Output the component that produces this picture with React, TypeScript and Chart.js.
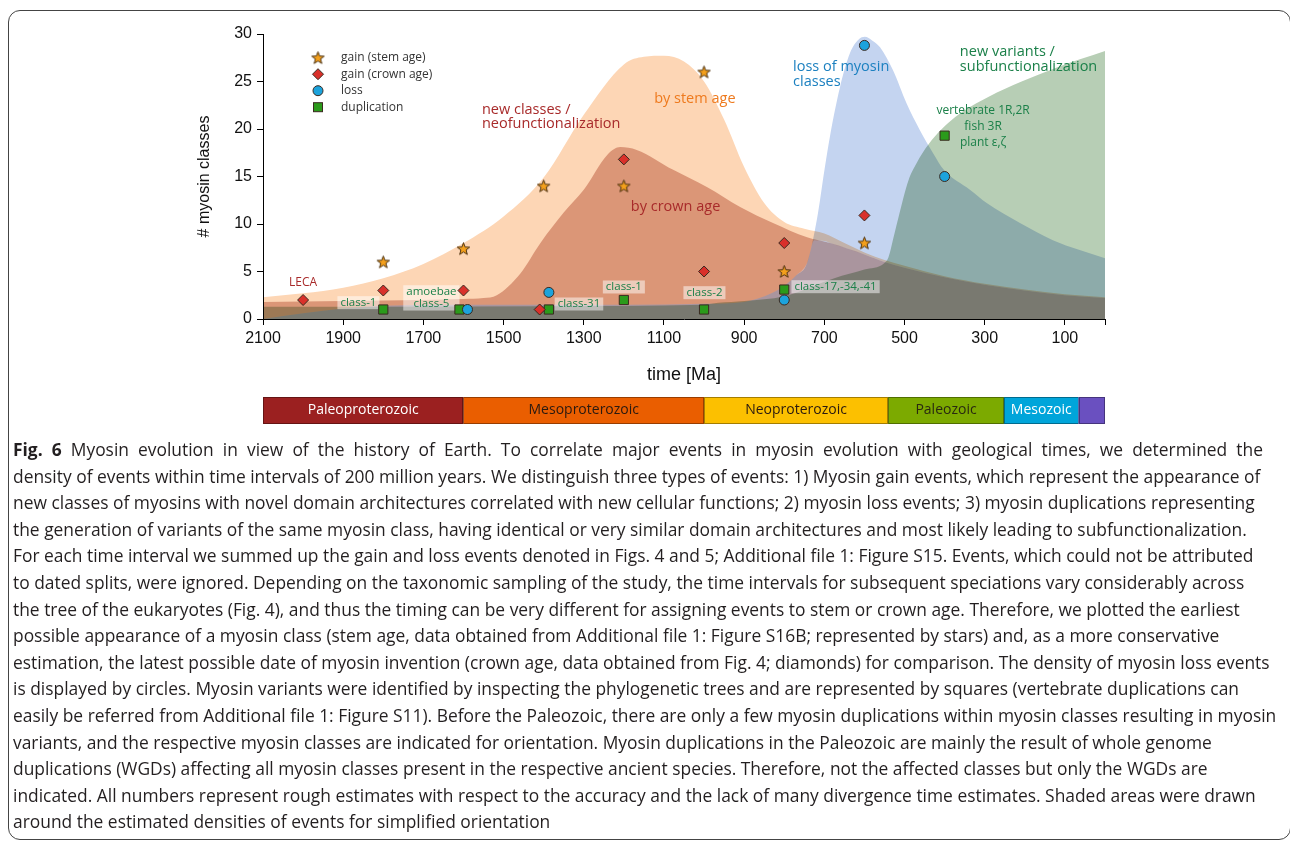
import React, { useEffect, useRef } from "react";
import { Chart, registerables } from "chart.js";

Chart.register(...registerables);

// ---------------- data ----------------
const xTickValues = [2100, 1900, 1700, 1500, 1300, 1100, 900, 700, 500, 300, 100, 0];

// gain events (stem age) – stars
const stemMa = [1800, 1600, 1400, 1200, 1000, 800, 600];
const stemGain = [6, 7.4, 14, 14, 26, 5, 8];
// gain events (crown age) – diamonds
const crownMa = [2000, 1800, 1600, 1410, 1200, 1000, 800, 600];
const crownGain = [2, 3, 3, 1, 16.8, 5, 8, 10.9];
// loss events – circles
const lossMa = [1590, 1387, 800, 600, 400];
const lossCount = [1, 2.8, 2, 28.8, 15];
// duplications – squares
const dupMa = [1800, 1610, 1387, 1200, 1000, 800, 400];
const dupCount = [1, 1, 1, 2, 1, 3.1, 19.3];

// shaded density envelopes
const stemAreaMa = [2100, 2000, 1900, 1800, 1700, 1600, 1500, 1400, 1300, 1200, 1150, 1100, 1050, 1000, 950, 900, 850, 800, 750, 700, 650, 600, 550, 500, 400, 300, 200, 100, 0];
const stemAreaVal = [2.3, 2.7, 3.3, 4.3, 5.8, 8.0, 10.8, 14.9, 21.5, 26.8, 27.6, 27.7, 27.1, 25.0, 21.0, 16.0, 12.2, 10.2, 9.5, 9.0, 8.0, 7.0, 6.2, 5.6, 4.5, 3.7, 3.1, 2.6, 2.3];
// lower edge of the stem-age shading (it lies on the loss band, then on the crown tail)
const stemFloorMa = [2100, 2000, 1900, 1800, 1600, 1400, 1200, 1000, 900, 832, 800, 770, 743, 725, 700, 686, 600, 550, 500, 400, 300, 200, 100, 0];
const stemFloorVal = [0, 0.6, 1.1, 1.4, 1.5, 1.5, 1.5, 1.6, 1.8, 2.7, 3.5, 4.6, 5.9, 8.3, 8.2, 8.0, 6.8, 6.0, 5.4, 4.4, 3.6, 3.0, 2.5, 2.2];

const crownAreaMa = [2100, 1900, 1700, 1600, 1550, 1517, 1458, 1408, 1350, 1300, 1241, 1209, 1168, 1077, 993, 910, 828, 743, 686, 600, 550, 500, 400, 300, 200, 100, 0];
const crownAreaVal = [1.8, 1.9, 2.0, 2.1, 2.2, 2.5, 4.8, 8.0, 11.2, 13.6, 17.3, 18.1, 17.8, 15.7, 13.9, 11.8, 10.1, 8.6, 8.0, 6.8, 6.0, 5.4, 4.4, 3.6, 3.0, 2.5, 2.2];

const lossAreaMa = [2100, 2000, 1900, 1800, 1600, 1400, 1200, 1000, 900, 832, 800, 770, 743, 718, 700, 686, 661, 636, 615, 599, 580, 561, 529, 495, 462, 428, 402, 337, 295, 212, 130, 0];
const lossAreaVal = [0, 0.6, 1.1, 1.4, 1.5, 1.5, 1.5, 1.6, 1.8, 2.7, 3.5, 4.6, 5.9, 10.6, 15.6, 19.2, 24.4, 28.0, 29.4, 29.7, 29.3, 28.6, 26.2, 22.7, 19.9, 17.4, 15.7, 13.6, 12.2, 10.1, 8.3, 6.4];

const dupAreaMa = [2100, 1800, 1400, 1000, 965, 900, 800, 675, 600, 550, 540, 525, 515, 490, 470, 440, 375, 290, 208, 125, 0];
const dupAreaVal = [1.3, 1.3, 1.35, 1.5, 1.7, 1.9, 2.4, 4.3, 5.2, 5.9, 6.5, 9.0, 10.7, 14.6, 16.4, 18.4, 21.2, 23.4, 25.0, 26.4, 28.2];

// geological time scale
const eraNames = ["Paleoproterozoic", "Mesoproterozoic", "Neoproterozoic", "Paleozoic", "Mesozoic", ""];
const eraStartMa = [2100, 1600, 1000, 541, 252, 66];
const eraEndMa = [1600, 1000, 541, 252, 66, 0];

const captionLines = [
  " Myosin evolution in view of the history of Earth. To correlate major events in myosin evolution with geological times, we determined the",
  "density of events within time intervals of 200 million years. We distinguish three types of events: 1) Myosin gain events, which represent the appearance of",
  "new classes of myosins with novel domain architectures correlated with new cellular functions; 2) myosin loss events; 3) myosin duplications representing",
  "the generation of variants of the same myosin class, having identical or very similar domain architectures and most likely leading to subfunctionalization.",
  "For each time interval we summed up the gain and loss events denoted in Figs. 4 and 5; Additional file 1: Figure S15. Events, which could not be attributed",
  "to dated splits, were ignored. Depending on the taxonomic sampling of the study, the time intervals for subsequent speciations vary considerably across",
  "the tree of the eukaryotes (Fig. 4), and thus the timing can be very different for assigning events to stem or crown age. Therefore, we plotted the earliest",
  "possible appearance of a myosin class (stem age, data obtained from Additional file 1: Figure S16B; represented by stars) and, as a more conservative",
  "estimation, the latest possible date of myosin invention (crown age, data obtained from Fig. 4; diamonds) for comparison. The density of myosin loss events",
  "is displayed by circles. Myosin variants were identified by inspecting the phylogenetic trees and are represented by squares (vertebrate duplications can",
  "easily be referred from Additional file 1: Figure S11). Before the Paleozoic, there are only a few myosin duplications within myosin classes resulting in myosin",
  "variants, and the respective myosin classes are indicated for orientation. Myosin duplications in the Paleozoic are mainly the result of whole genome",
  "duplications (WGDs) affecting all myosin classes present in the respective ancient species. Therefore, not the affected classes but only the WGDs are",
  "indicated. All numbers represent rough estimates with respect to the accuracy and the lack of many divergence time estimates. Shaded areas were drawn",
  "around the estimated densities of events for simplified orientation",
];

// ---------------- styles ----------------
const C = {
  peach: "#FDD6B5",
  crown: "#DDB3A8",
  blue: "#C4D4F0",
  green: "#B7CEB5",
  star: "#F4A01C",
  diamond: "#D9302A",
  circle: "#1CA3DC",
  square: "#2B9A1B",
  red: "#A82A2A",
  orange: "#EE7A1E",
  blueTxt: "#1C80C0",
  greenTxt: "#1B8049",
  era: ["#9B2020", "#EA5E00", "#FCC000", "#7CAA00", "#00A5DA", "#6A50C0"],
  eraTxt: ["#ffffff", "#2a1a10", "#2a1a10", "#2a2a10", "#ffffff", "#ffffff"],
};
const SANS = '"Open Sans", sans-serif';
const AXIS = '"Liberation Sans", Arial, sans-serif';

type Note = { lines: string[]; ma: number; v: number; color: string; size: number; align: CanvasTextAlign; gap?: number; box?: boolean };
const notes: Note[] = [
  { lines: ["LECA"], ma: 2000, v: 3.8, color: C.red, size: 12, align: "center" },
  { lines: ["new classes /", "neofunctionalization"], ma: 1554, v: 22.05, color: C.red, size: 14.5, align: "left", gap: 14.7 },
  { lines: ["by stem age"], ma: 1023, v: 23.2, color: C.orange, size: 14.5, align: "center" },
  { lines: ["by crown age"], ma: 1071, v: 11.8, color: C.red, size: 14.5, align: "center" },
  { lines: ["loss of myosin", "classes"], ma: 778, v: 26.5, color: C.blueTxt, size: 14.5, align: "left", gap: 14.5 },
  { lines: ["new variants /", "subfunctionalization"], ma: 362, v: 28.1, color: C.greenTxt, size: 14.5, align: "left", gap: 14.5 },
  { lines: ["vertebrate 1R,2R", "fish 3R", "plant \u03b5,\u03b6"], ma: 304, v: 21.9, color: C.greenTxt, size: 12, align: "center", gap: 16 },
  { lines: ["class-1"], ma: 1862, v: 1.72, color: C.greenTxt, size: 11.5, align: "center", box: true },
  { lines: ["amoebae", "class-5"], ma: 1680, v: 2.87, color: C.greenTxt, size: 11.5, align: "center", gap: 12.3, box: true },
  { lines: ["class-31"], ma: 1312, v: 1.58, color: C.greenTxt, size: 11.5, align: "center", box: true },
  { lines: ["class-1"], ma: 1200, v: 3.37, color: C.greenTxt, size: 11.5, align: "center", box: true },
  { lines: ["class-2"], ma: 999, v: 2.77, color: C.greenTxt, size: 11.5, align: "center", box: true },
  { lines: ["class-17,-34,-41"], ma: 672, v: 3.4, color: C.greenTxt, size: 11.5, align: "center", box: true },
];

function makeStar(size: number): HTMLCanvasElement {
  const c = document.createElement("canvas");
  c.width = size;
  c.height = size;
  const ctx = c.getContext("2d")!;
  const cx = size / 2, cy = size / 2 + 0.5, R = size / 2 - 1, r = R * 0.42;
  ctx.beginPath();
  for (let i = 0; i < 10; i++) {
    const a = -Math.PI / 2 + (i * Math.PI) / 5;
    const rad = i % 2 === 0 ? R : r;
    ctx.lineTo(cx + rad * Math.cos(a), cy + rad * Math.sin(a));
  }
  ctx.closePath();
  ctx.fillStyle = C.star;
  ctx.fill();
  ctx.lineWidth = 1;
  ctx.strokeStyle = "#4a3010";
  ctx.stroke();
  return c;
}

export default function App() {
  const ref = useRef<HTMLCanvasElement>(null);

  useEffect(() => {
    const canvas = ref.current!;
    const star = makeStar(15);
    const toXY = (xs: number[], ys: number[]) => xs.map((x, i) => ({ x, y: ys[i] }));
    const area = (label: string, xs: number[], ys: number[], color: string, fill: any) => ({
      type: "line",
      label,
      isArea: true,
      data: toXY(xs, ys),
      fill,
      backgroundColor: color,
      borderColor: "rgba(0,0,0,0)",
      borderWidth: 0,
      pointRadius: 0,
      pointHoverRadius: 0,
      cubicInterpolationMode: "monotone",
      tension: 0.4,
    });
    const pts = (label: string, xs: number[], ys: number[], style: any, color: string, radius: number) => ({
      type: "scatter",
      label,
      data: toXY(xs, ys),
      pointStyle: style,
      pointRadius: radius,
      pointHoverRadius: radius,
      backgroundColor: color,
      borderColor: "#3a2a20",
      borderWidth: 1,
    });

    const floorIndex = 8;
    const datasets: any[] = [
      pts("gain (stem age)", stemMa, stemGain, star, C.star, 7.5),
      pts("gain (crown age)", crownMa, crownGain, "rectRot", C.diamond, 5.5),
      pts("loss", lossMa, lossCount, "circle", C.circle, 5),
      pts("duplication", dupMa, dupCount, "rect", C.square, 6.5),
      area("loss density", lossAreaMa, lossAreaVal, C.blue, "origin"),
      area("duplication density", dupAreaMa, dupAreaVal, C.green, "origin"),
      area("crown density", crownAreaMa, crownAreaVal, C.crown, "origin"),
      area("stem density", stemAreaMa, stemAreaVal, C.peach, floorIndex),
      area("stem floor", stemFloorMa, stemFloorVal, "rgba(0,0,0,0)", false),
    ];
    const lastAreaIndex = 4;

    const drawNotes = (chart: any) => {
      const { ctx, scales } = chart;
      const xs = scales.x, ys = scales.y;
      ctx.save();
      ctx.globalCompositeOperation = "source-over";
      ctx.textBaseline = "middle";
      for (const n of notes) {
        const px = xs.getPixelForValue(n.ma);
        const py = ys.getPixelForValue(n.v);
        const gap = n.gap ?? 14;
        ctx.font = `${n.size}px ${SANS}`;
        if (n.box) {
          const w = Math.max(...n.lines.map((l) => ctx.measureText(l).width));
          const h = gap * (n.lines.length - 1) + 13;
          ctx.fillStyle = "rgba(255,255,255,0.5)";
          ctx.fillRect(px - w / 2 - 3, py - 6.5, w + 6, h);
        }
        ctx.fillStyle = n.color;
        ctx.textAlign = n.align;
        n.lines.forEach((l, i) => ctx.fillText(l, px, py + i * gap));
      }
      ctx.restore();
    };

    const drawMarker = (ctx: CanvasRenderingContext2D, kind: string, x: number, y: number) => {
      ctx.save();
      ctx.lineWidth = 1;
      ctx.strokeStyle = "#3a2a20";
      if (kind === "star") {
        ctx.drawImage(star, x - star.width / 2, y - star.height / 2);
      } else if (kind === "diamond") {
        ctx.beginPath();
        ctx.moveTo(x, y - 5.5); ctx.lineTo(x + 5.5, y); ctx.lineTo(x, y + 5.5); ctx.lineTo(x - 5.5, y);
        ctx.closePath();
        ctx.fillStyle = C.diamond; ctx.fill(); ctx.stroke();
      } else if (kind === "circle") {
        ctx.beginPath(); ctx.arc(x, y, 5, 0, Math.PI * 2);
        ctx.fillStyle = C.circle; ctx.fill(); ctx.stroke();
      } else {
        ctx.fillStyle = C.square;
        ctx.fillRect(x - 4.5, y - 4.5, 9, 9); ctx.strokeRect(x - 4.5, y - 4.5, 9, 9);
      }
      ctx.restore();
    };

    const plugin = {
      id: "myosinDecor",
      beforeDatasetsDraw(chart: any) {
        chart.ctx.globalCompositeOperation = "multiply";
      },
      beforeDatasetDraw(chart: any, args: any) {
        const ds = chart.data.datasets[args.index];
        chart.ctx.globalCompositeOperation = ds.isArea ? "multiply" : "source-over";
      },
      afterDatasetDraw(chart: any, args: any) {
        if (args.index === lastAreaIndex) drawNotes(chart);
      },
      afterDatasetsDraw(chart: any) {
        chart.ctx.globalCompositeOperation = "source-over";
      },
      afterDraw(chart: any) {
        const { ctx, scales, chartArea } = chart;
        ctx.save();
        ctx.globalCompositeOperation = "source-over";
        // legend
        const legend = [
          ["star", "gain (stem age)"],
          ["diamond", "gain (crown age)"],
          ["circle", "loss"],
          ["square", "duplication"],
        ];
        const lx = chartArea.left + 55;
        legend.forEach(([k, t], i) => {
          const ly = chartArea.top + 23.7 + i * 16.5;
          drawMarker(ctx, k, lx, ly);
          ctx.font = `12px ${SANS}`;
          ctx.fillStyle = "#333";
          ctx.textAlign = "left";
          ctx.textBaseline = "middle";
          ctx.fillText(t, lx + 23, ly);
        });
        // geological time bar
        const xs = scales.x;
        const top = chartArea.bottom + 78;
        const h = 27;
        eraNames.forEach((name, i) => {
          const x1 = xs.getPixelForValue(eraStartMa[i]);
          const x2 = xs.getPixelForValue(eraEndMa[i]);
          ctx.fillStyle = C.era[i];
          ctx.fillRect(x1, top, x2 - x1, h);
          ctx.strokeStyle = "rgba(0,0,0,0.35)";
          ctx.lineWidth = 1;
          ctx.strokeRect(Math.round(x1) + 0.5, top + 0.5, Math.round(x2 - x1) - 1, h - 1);
          if (name) {
            ctx.font = `14px ${SANS}`;
            ctx.fillStyle = C.eraTxt[i];
            ctx.textAlign = "center";
            ctx.textBaseline = "middle";
            ctx.fillText(name, (x1 + x2) / 2, top + h / 2);
          }
        });
        ctx.restore();
      },
    };

    const chart = new Chart(canvas, {
      type: "scatter",
      data: { datasets },
      plugins: [plugin],
      options: {
        responsive: false,
        animation: false,
        devicePixelRatio: 1,
        events: [],
        layout: { padding: { left: 190, right: 185, top: 34, bottom: 54 } },
        plugins: { legend: { display: false }, tooltip: { enabled: false } },
        scales: {
          x: {
            type: "linear",
            reverse: true,
            min: 0,
            max: 2100,
            afterBuildTicks: (s: any) => {
              s.ticks = xTickValues.map((v) => ({ value: v }));
            },
            afterFit: (s: any) => {
              s.height = 67;
            },
            ticks: {
              autoSkip: false,
              maxRotation: 0,
              padding: 4,
              color: "#111",
              font: { family: AXIS, size: 16 },
              callback: (v: any) => (v === 0 ? "" : String(v)),
            },
            grid: { drawOnChartArea: false, drawTicks: true, tickLength: 6, color: "#000", lineWidth: 1 },
            border: { display: true, color: "#000", width: 1 },
            title: { display: true, text: "time [Ma]", color: "#111", font: { family: AXIS, size: 18 }, padding: { top: 0, bottom: 0 } },
          },
          y: {
            type: "linear",
            min: 0,
            max: 30,
            afterFit: (s: any) => {
              s.width = 73;
            },
            ticks: { stepSize: 5, padding: 5, color: "#111", font: { family: AXIS, size: 16 } },
            grid: { drawOnChartArea: false, drawTicks: true, tickLength: 6, color: "#000", lineWidth: 1 },
            border: { display: true, color: "#000", width: 1 },
            title: { display: true, text: "# myosin classes", color: "#111", font: { family: AXIS, size: 16 }, padding: { top: 5, bottom: 0 } },
          },
        },
      } as any,
    } as any);
    return () => chart.destroy();
  }, []);

  return (
    <div style={{ position: "fixed", left: 0, top: 0, width: 1290, height: 841, overflow: "hidden", background: "#fff" }}>
      <div
        style={{
          position: "absolute",
          left: 8,
          top: 10,
          width: 1283,
          height: 830,
          boxSizing: "border-box",
          border: "1px solid #444",
          borderRadius: 12,
        }}
      />
      <canvas ref={ref} width={1290} height={440} style={{ position: "absolute", left: 0, top: 0, width: 1290, height: 440 }} />
      <div
        style={{
          position: "absolute",
          left: 13,
          top: 436,
          fontFamily: SANS,
          fontSize: 17.4,
          lineHeight: "26.6px",
          color: "#231f20",
          whiteSpace: "nowrap",
        }}
      >
        {captionLines.map((l, i) => (
          <div
            key={i}
            style={i === 0 ? { width: 1250, textAlign: "justify", textAlignLast: "justify", whiteSpace: "normal", height: 26.6, overflow: "hidden" } : undefined}
          >
            {i === 0 ? (
              <>
                <b>Fig. 6</b>
                {l}
              </>
            ) : (
              l
            )}
          </div>
        ))}
      </div>
    </div>
  );
}
